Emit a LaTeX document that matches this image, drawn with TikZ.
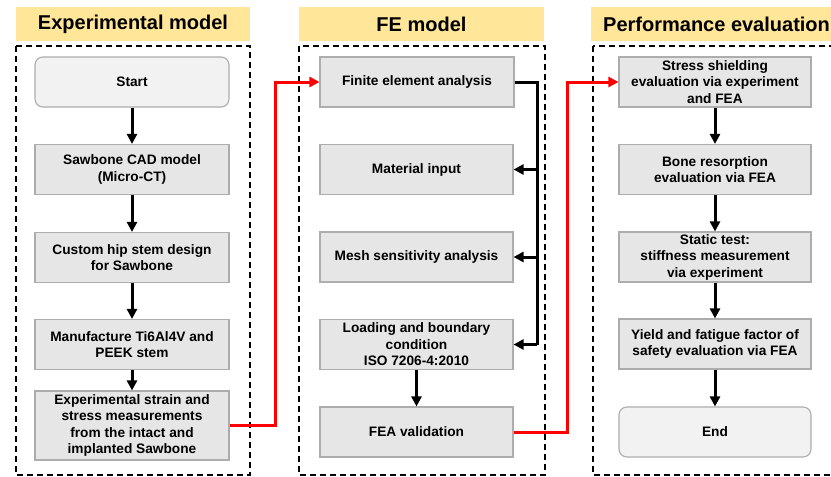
\documentclass[tikz,border=0pt]{standalone}
\usepackage{fontspec}
\setmainfont{Liberation Sans}
\usetikzlibrary{arrows.meta,positioning}
\definecolor{hdr}{HTML}{FFE699}
\definecolor{boxfill}{HTML}{E6E6E6}
\definecolor{termfill}{HTML}{F2F2F2}
\definecolor{boxline}{HTML}{ADADAD}
\definecolor{redline}{HTML}{FF0000}
\tikzset{
  stepbox/.style={draw=boxline, line width=1.1pt, fill=boxfill, align=center,
    font=\fontsize{13.7}{16.5}\selectfont\bfseries, inner sep=2pt,
    minimum width=194pt, minimum height=50pt},
  termbox/.style={stepbox, fill=termfill, rounded corners=8pt},
  header/.style={fill=hdr, font=\fontsize{20}{24}\selectfont\bfseries,
    minimum height=34pt, inner sep=0pt},
  frame/.style={draw=black, line width=1.5pt, dash pattern=on 6pt off 4pt},
  blk/.style={line width=3pt, draw=black, -{Triangle[length=10pt,width=10pt]}},
  blkline/.style={line width=3pt, draw=black},
  redarr/.style={line width=3pt, draw=redline, -{Triangle[length=10pt,width=10pt]}}
}
\begin{document}
\begin{tikzpicture}[x=1pt,y=-1pt]
\useasboundingbox (0,0) rectangle (831,477);
\fill[white] (0,0) rectangle (831,477);
% headers
\node[header, minimum width=234pt] (h1) at (133,24) {Experimental model};
\node[header, minimum width=245pt] (h2) at (421.5,24) {FE model};
\node[header, minimum width=250pt, anchor=west] (h3) at (591,24) {};
\node[font=\fontsize{20}{24}\selectfont\bfseries, anchor=west, inner sep=0pt] (h3t) at (603,24) {Performance evaluation};
% frames
\draw[frame] (16,46) rectangle (250,475);
\draw[frame] (299,46) rectangle (545,475);
\draw[frame] (593,46) rectangle (845,475);
% left column
\node[termbox] (start) at (132,82) {Start};
\node[stepbox] (cad) at (132,169.5) {Sawbone CAD model\\(Micro-CT)};
\node[stepbox] (hip) at (132,257.5) {Custom hip stem design\\for Sawbone};
\node[stepbox] (man) at (132,344.5) {Manufacture Ti6Al4V and\\PEEK stem};
\node[stepbox, minimum height=69pt] (exp) at (132,425.5) {Experimental strain and\\stress measurements\\from the intact and\\implanted Sawbone};
% middle column
\node[stepbox] (fea) at (417,82) {Finite element analysis};
\node[stepbox, minimum width=193pt] (mat) at (416.5,169.5) {Material input};
\node[stepbox, minimum width=193pt] (mesh) at (416.5,257) {Mesh sensitivity analysis};
\node[stepbox, minimum width=193pt] (load) at (416.5,344.5) {Loading and boundary\\condition\\ISO 7206-4:2010};
\node[stepbox, minimum width=193pt] (val) at (416.5,432) {FEA validation};
% right column
\node[stepbox, minimum width=192pt] (ss) at (715,82) {Stress shielding\\evaluation via experiment\\and FEA};
\node[stepbox, minimum width=192pt] (bone) at (715,169.5) {Bone resorption\\evaluation via FEA};
\node[stepbox, minimum width=192pt] (stat) at (715,257) {Static test:\\stiffness measurement\\via experiment};
\node[stepbox, minimum width=192pt] (yield) at (715,344) {Yield and fatigue factor of\\safety evaluation via FEA};
\node[termbox, minimum width=192pt] (end) at (715,432) {End};
% left arrows
\draw[blk] (start) -- (cad);
\draw[blk] (cad) -- (hip);
\draw[blk] (hip) -- (man);
\draw[blk] (man) -- (exp);
% middle connectors
\coordinate (jx) at (537,0);
\draw[blkline] (fea.east) -| (jx |- load.east);
\draw[blk] (jx |- load.east) -- (load.east);
\draw[blk] (jx |- mat.east) -- (mat.east);
\draw[blk] (jx |- mesh.east) -- (mesh.east);
\draw[blk] (load) -- (val);
% right arrows
\draw[blk] (ss) -- (bone);
\draw[blk] (bone) -- (stat);
\draw[blk] (stat) -- (yield);
\draw[blk] (yield) -- (end);
% red connectors
\coordinate (r1) at (275,0);
\coordinate (r2) at (567,0);
\draw[redarr] (exp.east) -| (r1 |- fea.west) -- (fea.west);
\draw[redarr] (val.east) -| (r2 |- ss.west) -- (ss.west);
\end{tikzpicture}
\end{document}
